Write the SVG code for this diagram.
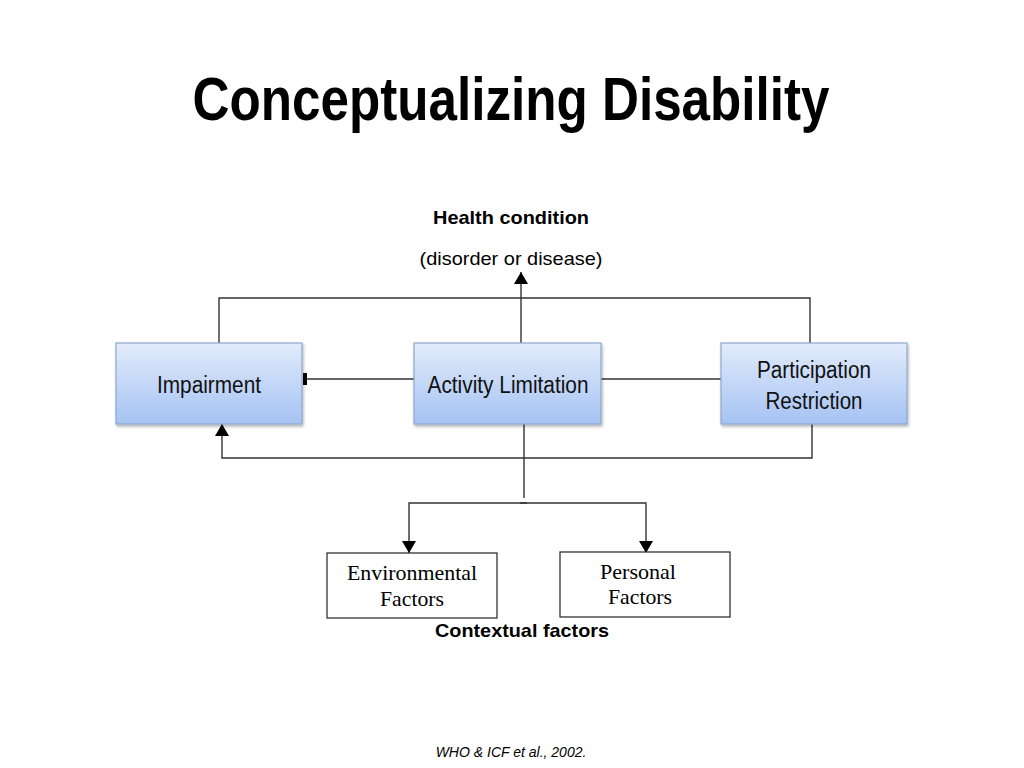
<svg xmlns="http://www.w3.org/2000/svg" width="1024" height="768" viewBox="0 0 1024 768">
<style>
.title{font-family:"Liberation Sans Narrow","Liberation Sans",Arial,sans-serif;font-weight:bold;font-size:62px;fill:#000}
.box{fill:url(#blue);stroke:#8ea8cf;stroke-width:1.2}
.bt{font-family:"Liberation Sans Narrow","Liberation Sans",Arial,sans-serif;font-size:23px;fill:#111}
.st{fill:#fff;stroke:#222;stroke-width:1.2}
.serif{font-family:"Liberation Serif","Times New Roman",serif;font-size:21px;fill:#000}
.lbl{font-family:"Liberation Sans",Arial,sans-serif;font-size:19px;fill:#000}
.b{font-weight:bold}
.conn line,.conn polyline{stroke:#333;stroke-width:1.4;fill:none}
</style>
<defs>
<linearGradient id="blue" x1="0" y1="0" x2="0" y2="1">
<stop offset="0" stop-color="#e2ebfb"/>
<stop offset="1" stop-color="#a5c3f3"/>
</linearGradient>
<filter id="sh" x="-10%" y="-10%" width="130%" height="130%">
<feDropShadow dx="1" dy="2" stdDeviation="1.5" flood-color="#000" flood-opacity="0.3"/>
</filter>
<marker id="arr2" viewBox="0 0 12 14" refX="12" refY="7" markerWidth="12" markerHeight="14" markerUnits="userSpaceOnUse" orient="auto">
<path d="M0,0 L12,7 L0,14 z" fill="#000"/>
</marker>
<marker id="bar" viewBox="0 0 4 12" refX="4" refY="6" markerWidth="4" markerHeight="12" markerUnits="userSpaceOnUse" orient="auto">
<rect x="0" y="0" width="4" height="12" fill="#000"/>
</marker>
</defs>
<rect width="1024" height="768" fill="#fff"/>
<text class="title" x="511" y="120" text-anchor="middle" textLength="637" lengthAdjust="spacingAndGlyphs">Conceptualizing Disability</text>
<text class="lbl b" x="511" y="224" text-anchor="middle" textLength="156" lengthAdjust="spacingAndGlyphs">Health condition</text>
<text class="lbl" x="511" y="265" text-anchor="middle" textLength="183" lengthAdjust="spacingAndGlyphs">(disorder or disease)</text>

<g class="conn" id="connectors">
<polyline points="219,343 219,298 810,298 810,343"/>
<line x1="521" y1="343" x2="521" y2="272" marker-end="url(#arr2)"/>
<line x1="414" y1="379" x2="303" y2="379" marker-end="url(#bar)"/>
<line x1="601" y1="379" x2="721" y2="379"/>
<polyline points="812,424 812,458 222,458 222,424" marker-end="url(#arr2)"/>
<line x1="524" y1="424" x2="524" y2="498"/>
<polyline points="527,503 409,503 409,553" marker-end="url(#arr2)"/>
<polyline points="520,503 646,503 646,553" marker-end="url(#arr2)"/>
</g>

<g id="impairment">
<rect class="box" x="116" y="343" width="186" height="81" filter="url(#sh)"/>
<text class="bt" x="209" y="393" text-anchor="middle" textLength="104" lengthAdjust="spacingAndGlyphs">Impairment</text>
</g>
<g id="activity">
<rect class="box" x="414" y="343" width="187" height="81" filter="url(#sh)"/>
<text class="bt" x="508" y="393" text-anchor="middle" textLength="161" lengthAdjust="spacingAndGlyphs">Activity Limitation</text>
</g>
<g id="participation">
<rect class="box" x="721" y="343" width="186" height="81" filter="url(#sh)"/>
<text class="bt" x="814" y="378" text-anchor="middle" textLength="114" lengthAdjust="spacingAndGlyphs">Participation</text>
<text class="bt" x="814" y="409" text-anchor="middle" textLength="97" lengthAdjust="spacingAndGlyphs">Restriction</text>
</g>
<g id="environmental">
<rect class="st" x="327" y="553" width="170" height="65"/>
<text class="serif" x="412" y="580" text-anchor="middle" textLength="130" lengthAdjust="spacingAndGlyphs">Environmental</text>
<text class="serif" x="412" y="606" text-anchor="middle" textLength="64" lengthAdjust="spacingAndGlyphs">Factors</text>
</g>
<g id="personal">
<rect class="st" x="560" y="552" width="170" height="65"/>
<text class="serif" x="638" y="579" text-anchor="middle" textLength="76" lengthAdjust="spacingAndGlyphs">Personal</text>
<text class="serif" x="640" y="604" text-anchor="middle" textLength="64" lengthAdjust="spacingAndGlyphs">Factors</text>
</g>
<text class="lbl b" x="522" y="637" text-anchor="middle" textLength="174" lengthAdjust="spacingAndGlyphs">Contextual factors</text>
<text x="511" y="757" text-anchor="middle" font-family="Liberation Sans, Arial, sans-serif" font-style="italic" font-size="14" fill="#000">WHO &amp; ICF et al., 2002.</text>
</svg>
